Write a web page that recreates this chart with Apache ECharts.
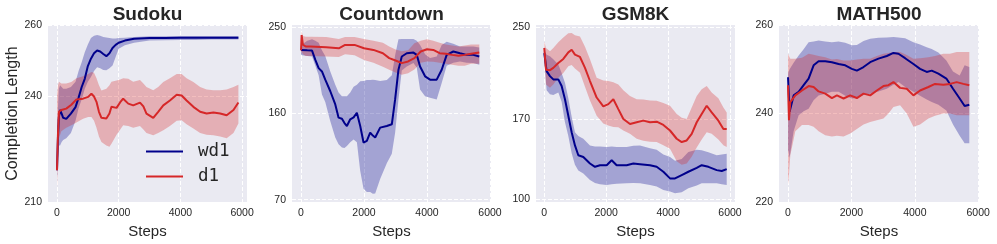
<!DOCTYPE html>
<html>
<head>
<meta charset="utf-8">
<script src="https://cdn.jsdelivr.net/npm/echarts@6/dist/echarts.min.js"></script>
<style>html,body{margin:0;padding:0;background:#fff}#c{width:997px;height:244px}</style>
</head>
<body>
<div id="c"></div>
<script>
// ---------- tick labels ----------
const xTicks = [0, 2000, 4000, 6000];
const sudokuYTicks = [210, 240, 260];
const countdownYTicks = [70, 160, 250];
const gsmYTicks = [100, 170, 250];
const mathYTicks = [220, 240, 260];
const titles = ['Sudoku', 'Countdown', 'GSM8K', 'MATH500'];
const seriesNames = ['wd1', 'd1'];

// ---------- Sudoku ----------
const sudokuWd1X = [0,30,60,100,150,200,300,450,600,700,800,900,1000,1100,1200,1300,1400,1500,1600,1700,1800,1900,2000,2200,2500,3000,3500,4000,4500,5000,5500,5880];
const sudokuWd1Mean = [219,228,234,236,235,233.8,233.5,235,236.8,239.5,242.5,244.8,248.4,250.5,252,252.8,252.5,251.8,251.2,252,253.5,254.4,255,255.6,256.1,256.3,256.3,256.4,256.4,256.4,256.4,256.4];
const sudokuWd1Low = [216,222,226,226,227,227.5,228,229.5,233,236.5,239,242,244,245.3,247,248.1,247.8,247.3,247.2,247.8,248.6,251,253.3,254.3,255,255.6,255.7,255.8,255.8,255.9,255.9,255.9];
const sudokuWd1High = [222,236,242,243,242.5,242,242,242.5,244,247,249.5,252.3,254.5,256.3,257,257.2,257,256.6,256.5,256.3,256.2,256.2,256.3,256.4,256.6,256.8,256.8,256.9,256.9,256.9,256.9,256.9];
const sudokuD1X = [0,30,65,140,300,465,630,845,1010,1115,1200,1280,1360,1440,1600,1700,1765,1930,2050,2145,2310,2470,2690,2800,2900,3120,3280,3445,3660,3880,4040,4200,4420,4640,4850,5070,5290,5500,5720,5880];
const sudokuD1Mean = [219,229,235.5,236,236.4,237.5,239,239.2,239.7,240.6,239.8,238.3,235.5,233.8,233.6,235,236.9,236.6,238.2,239.2,237.8,237.3,238.1,237,235,233.8,235.5,237.3,238.7,240.3,240.1,238.7,236.9,235.5,235,235.3,235,234.5,236,238.1];
const sudokuD1Low = [214,222,228,230,231,231.7,232.5,233.5,234,234,233,231,228.5,227,226,225.6,226.5,229,230.5,231.7,231.5,231,231.5,230.5,229.5,228.9,229.5,230.3,231.5,233,233.1,232,230.8,229.5,229,228.9,228.5,228,229.5,232.2];
const sudokuD1High = [240,243,244,243.5,243.5,243.9,245,245.5,246.2,246.7,246.5,245,243,241.5,242,243,244,244.3,244.6,245,244.8,244,244.5,243.5,242.5,241.6,242.5,243.9,245,246.2,246.2,245,243.9,242.5,241.8,241.6,241.6,241.8,242.5,243.1];

// ---------- Countdown ----------
const countWd1X = [0,30,200,350,455,560,665,770,930,1088,1193,1299,1380,1457,1563,1670,1774,1880,1985,2090,2196,2280,2355,2513,2724,2883,2988,3094,3200,3358,3570,3675,3780,3939,4097,4308,4467,4625,4836,5047,5259,5470,5660];
const countWd1Mean = [226.5,226.5,226,225.8,216,207.5,204,195.4,183.3,169.5,155.7,154.6,150,147,154,156,160.8,147,129.7,131.5,140.1,137,135,145.3,147,148.8,174.7,205.8,219.6,223,223.7,221.3,209.2,198.9,195.4,195.4,205.8,221.3,224.8,223,221.3,221.3,219.6];
const countWd1Low = [222,221,220,219.6,210,200,180,172,152,135,128,124.6,124,126,130,133,130,100,81.4,78,78,76.2,76.5,91.7,108,118,140,174.7,205,209.2,212.7,208,185,178,176.4,174.7,192,210,213,214.4,213,212.7,211];
const countWd1High = [230,232,236,237.6,236,234,226,220,204,190,182,178,178,178,182,188,190,193.7,194,195,195,195.4,195,194,195,200,221,237.6,238,238,238,236,231.7,222,218,219.6,231.7,235,233,230,230,230,229];
const countD1X = [0,20,60,150,300,800,1200,1400,1700,2000,2300,2600,2800,3000,3200,3400,3600,3800,4000,4200,4400,4600,4800,5000,5200,5400,5660];
const countD1Mean = [226,242,232,230,230,229.3,228.2,231.7,231.7,228.2,226.5,223,217.9,215.4,212.7,214.4,217.9,224.8,227.2,226.5,223,222.4,221.3,220.3,221.3,222.4,223.7];
const countD1Low = [222,225,222,220,220,219.6,219,222,221,216,213,209,205.8,203,200.6,202,206,213,214.4,214,213,212,211,210,210,212,212];
const countD1High = [232,246,241,240.3,240.3,240,238,240,240,238,236,234,230,227,225,226,233.4,236,237.6,236,234,232,231,230,231,232,232];

// ---------- GSM8K ----------
const gsmWd1X = [0,75,183,291,453,560,668,776,884,991,1099,1261,1476,1638,1800,2015,2177,2338,2662,2877,3093,3416,3631,3847,4062,4224,4440,4655,4925,5086,5302,5571,5733,5894];
const gsmWd1Mean = [227.5,211.7,207.4,204.5,204.5,198.7,187.2,172.8,158.4,146.9,138.3,136.8,131.1,128.2,129.6,129.6,134,129.6,129.6,131.1,130.5,129.6,128.2,123.9,118.1,118.1,121,123.9,127.3,129.6,128.2,125.3,124.5,126.2];
const gsmWd1Low = [221.8,195,191.5,191,193,185,167.1,155,140,130,125,122.4,116.7,114,113,112.4,113,113.5,113.8,114,113.8,112.4,111,108,106.6,105.2,106,109.5,112,113.8,113.8,113.8,113,112.4];
const gsmWd1High = [230.4,226,224.7,222,217.5,210,201.6,188,172,158.4,155,152.7,146.9,146,146,145.5,146,145.5,145.5,146.5,146.9,144.5,143,139,136.8,133.5,135,141.2,143,142.6,141,138.3,139,139.7];
const gsmD1X = [0,54,183,291,453,614,776,884,991,1153,1315,1476,1692,1907,2069,2231,2392,2554,2769,2985,3200,3416,3631,3847,4062,4278,4440,4601,4763,4925,5086,5248,5409,5625,5787,5894];
const gsmD1Mean = [231.9,213,212.6,214.6,218.9,222.4,228.1,230.4,226.1,224.1,214.6,203.1,188.7,180.9,182.9,187.2,178.6,170,165.6,167.1,168.5,167.1,167.6,164.8,159.9,152.7,149.8,151.2,157,167.1,174.3,181.5,175.7,168.5,161.3,161.3];
const gsmD1Low = [224.7,200,197.3,200,206,210,216,217,214,210.3,198,186,172.8,166,164.2,163,162.8,160,157,152.7,151,150,149.8,147,144,133,130,131,137,145,152,158.4,157,152,147,145.5];
const gsmD1High = [237.6,232,229,232,237,241,244.8,245,243,241.9,233,222,206,203.5,203.1,202,200,195,190.1,187.2,187,186,185.8,184,181.5,174.3,171,170,180,190,196,198.7,193,188,180,175.7];

// ---------- MATH500 ----------
const mathWd1X = [0,50,178,336,493,650,808,965,1175,1385,1595,1805,2015,2172,2382,2592,2854,3116,3326,3484,3694,3956,4166,4375,4533,4743,4995,5205,5415,5572,5719];
const mathWd1Mean = [248.2,240.4,244.1,244.9,246.4,247.9,250.9,251.8,251.8,251.6,251.2,250.9,250.1,249.7,250.5,251.6,252.4,253,253.7,253.5,252.5,251.2,250.1,249.4,249.7,249,247.9,245.6,243.4,241.7,242];
const mathWd1Low = [232,230,236,239.6,240.5,241.1,243,244.1,244.5,244.9,244.9,244,243.4,243.5,244.2,244.5,245,245.6,246.5,247.1,246,244.9,244,243.2,242.6,242,240.7,237.5,235,233.3,233.3];
const mathWd1High = [249,250,251.5,253.1,254.5,256.1,256.3,256.5,256.3,256.1,256.3,256,255.4,255.5,256.4,256.9,257.1,257.2,257.3,257.2,257,256.1,255.6,255,254.6,253.8,252,249.5,248.6,250.9,250.5];
const mathD1X = [0,30,73,231,441,651,808,965,1175,1385,1543,1752,1962,2172,2382,2592,2802,3011,3169,3326,3536,3746,3956,4166,4428,4638,4900,5110,5320,5530,5719];
const mathD1Mean = [246.4,238.5,242.6,244.1,245.2,246.2,246,245,244.5,243.5,244.1,243.4,244.1,243.5,244.5,244.1,245.2,246.2,246.4,247.1,245.8,245.6,244.1,245.2,246,246.7,246.5,246.7,247.1,246.7,246.4];
const mathD1Low = [224,226,230.6,236,237.4,237.4,237,236,235.1,234.8,235,234.8,235.5,236.5,237.5,238.1,238.5,238.9,240,241.5,241.9,240,237,237.5,238.9,239.5,240,240,239.6,239.6,239.6];
const mathD1High = [253.5,253,252.4,252.4,252.6,253.5,253.3,253,252.7,252.2,252.3,252,252,252.2,252.4,252.4,253,253.5,253.7,253.9,253.9,253.2,252.4,252.5,252.7,253,253.5,253.5,253.9,253.9,253.9];

// ---------- layout / style ----------
const FONT = '"Liberation Sans", Arial, sans-serif';
const TXT = '#262626';
const BG = '#EAEAF2';
const NAVY = '#00008B';
const RED = '#D62728';
const panels = [
  {left:48,  width:199, xmin:-292, xmax:6159, ymin:210,  ymax:260,   yTicks:sudokuYTicks,
   wd1:[sudokuWd1X,sudokuWd1Mean,sudokuWd1Low,sudokuWd1High], d1:[sudokuD1X,sudokuD1Mean,sudokuD1Low,sudokuD1High]},
  {left:292, width:199, xmin:-286, xmax:6032, ymin:67.5, ymax:252.5, yTicks:countdownYTicks,
   wd1:[countWd1X,countWd1Mean,countWd1Low,countWd1High], d1:[countD1X,countD1Mean,countD1Low,countD1High]},
  {left:536, width:199, xmin:-268, xmax:6162, ymin:97.4, ymax:252,   yTicks:gsmYTicks,
   wd1:[gsmWd1X,gsmWd1Mean,gsmWd1Low,gsmWd1High], d1:[gsmD1X,gsmD1Mean,gsmD1Low,gsmD1High]},
  {left:779, width:200, xmin:-284, xmax:6025, ymin:220,  ymax:260,   yTicks:mathYTicks,
   wd1:[mathWd1X,mathWd1Mean,mathWd1Low,mathWd1High], d1:[mathD1X,mathD1Mean,mathD1Low,mathD1High]}
];
const TOP = 25, HEIGHT = 179;

const grids = [], xAxes = [], yAxes = [], series = [], titleOpts = [];
const splitStyle = {show:true, lineStyle:{color:'#ffffff', width:1, type:[4,2]}};
const plain = v => String(v);

function band(i, arr, color) {
  const xs = arr[0], lo = arr[2], hi = arr[3];
  return {
    type:'custom', xAxisIndex:i, yAxisIndex:i, silent:true, clip:true, z:1,
    data: xs.map((x,k)=>[x, lo[k], hi[k]]),
    encode:{x:0, y:[1,2]},
    renderItem: function(params, api) {
      if (params.dataIndex !== 0) return null;
      const pts = [];
      for (let k = 0; k < xs.length; k++) pts.push(api.coord([xs[k], hi[k]]));
      for (let k = xs.length - 1; k >= 0; k--) pts.push(api.coord([xs[k], lo[k]]));
      return {type:'polygon', shape:{points:pts}, style:{fill:color, opacity:0.3}};
    }
  };
}
function line(i, arr, color, name) {
  return {
    type:'line', name:name, xAxisIndex:i, yAxisIndex:i, z:3,
    data: arr[0].map((x,k)=>[x, arr[1][k]]),
    showSymbol:false, symbol:'none', smooth:false,
    lineStyle:{color:color, width:2}, itemStyle:{color:color}
  };
}

panels.forEach((p, i) => {
  grids.push({left:p.left, top:TOP, width:p.width, height:HEIGHT, show:true,
    backgroundColor:BG, borderWidth:0, containLabel:false});
  xAxes.push({type:'value', gridIndex:i, min:p.xmin, max:p.xmax,
    axisLine:{show:false}, axisTick:{show:false, customValues:xTicks},
    axisLabel:{customValues:xTicks, formatter:plain, color:TXT, fontSize:10.5, fontFamily:FONT, margin:6},
    splitLine:splitStyle,
    name:'Steps', nameLocation:'middle', nameGap:16.5,
    nameTextStyle:{color:TXT, fontSize:15, fontFamily:FONT}});
  const ya = {type:'value', gridIndex:i, min:p.ymin, max:p.ymax,
    axisLine:{show:false}, axisTick:{show:false, customValues:p.yTicks},
    axisLabel:{customValues:p.yTicks, formatter:plain, color:TXT, fontSize:10.5, fontFamily:FONT, margin:6},
    splitLine:splitStyle};
  if (i === 0) {
    ya.name = 'Completion Length'; ya.nameLocation = 'middle'; ya.nameGap = 27;
    ya.nameTextStyle = {color:TXT, fontSize:16, fontFamily:FONT};
  }
  yAxes.push(ya);
  titleOpts.push({text:titles[i], left:p.left + p.width/2, top:5, textAlign:'center', padding:0,
    textStyle:{color:TXT, fontSize:19, fontWeight:'bold', fontFamily:FONT}});
  series.push(band(i, p.wd1, NAVY));
  series.push(band(i, p.d1, RED));
  series.push(line(i, p.wd1, NAVY, seriesNames[0]));
  series.push(line(i, p.d1, RED, seriesNames[1]));
});

const chart = echarts.init(document.getElementById('c'), null, {renderer:'canvas'});
chart.setOption({
  animation:false,
  backgroundColor:'#ffffff',
  title:titleOpts,
  grid:grids, xAxis:xAxes, yAxis:yAxes,
  legend:{
    data:seriesNames.map(n=>({name:n, icon:'rect'})),
    orient:'vertical', left:146, top:141.5, padding:0,
    itemWidth:37, itemHeight:2, itemGap:5, selectedMode:false,
    textStyle:{color:TXT, fontSize:17.5, fontFamily:'"DejaVu Sans Mono", monospace', lineHeight:20, padding:[0,0,0,10]}
  },
  series:series
});
</script>
</body>
</html>
